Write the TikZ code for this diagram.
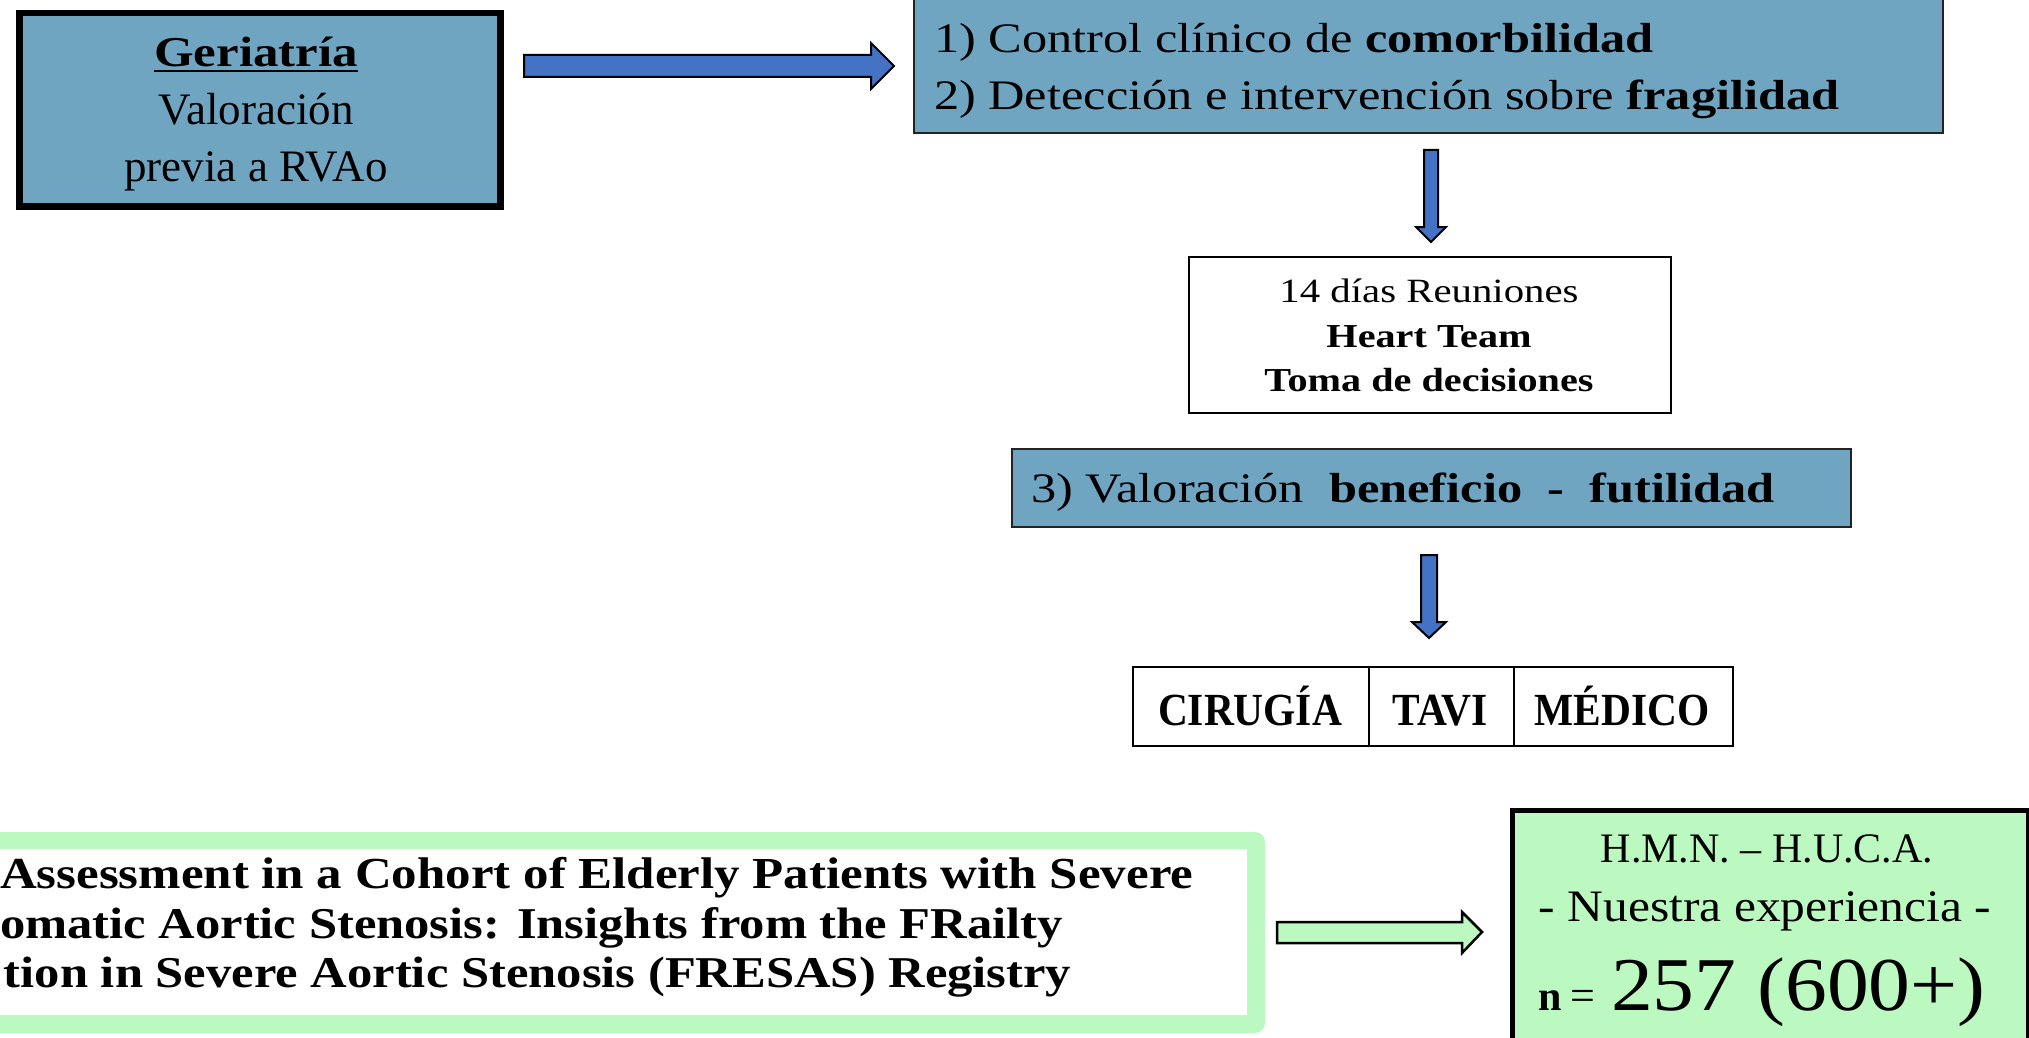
\documentclass[tikz,border=0pt]{standalone}
\usepackage{fontspec}
\setmainfont{Liberation Serif}
\newfontfamily\fWide[FakeStretch=1.2]{Liberation Serif}
\newfontfamily\fNar[FakeStretch=0.9]{Liberation Serif}
\newfontfamily\fPal[FakeStretch=1.15]{Liberation Serif}
\newfontfamily\fGrn[FakeStretch=1.1]{Liberation Serif}
\usetikzlibrary{calc}
\definecolor{boxblue}{RGB}{112,165,194}
\definecolor{arrblue}{RGB}{68,114,196}
\definecolor{lgreen}{RGB}{187,249,192}
\definecolor{edgegray}{RGB}{35,35,35}
\newcommand\fsz[1]{\fontsize{#1}{#1}\selectfont}
\begin{document}
\begin{tikzpicture}[x=1pt,y=-1pt,
  txt/.style={inner sep=0pt, outer sep=0pt, anchor=base},
  txtl/.style={inner sep=0pt, outer sep=0pt, anchor=base west},
  bluebox/.style={draw=edgegray, fill=boxblue, line width=2pt, inner sep=0pt, anchor=north west},
  whitebox/.style={draw=black, fill=white, line width=2pt, inner sep=0pt, anchor=north west},
  barrow/.style={fill=arrblue, draw=black, line width=2pt, line join=miter},
  garrow/.style={fill=lgreen, draw=black, line width=2.5pt, line join=miter}]
\useasboundingbox (0,0) rectangle (2029,1038);
\clip (0,0) rectangle (2029,1038);
\fill[white] (0,0) rectangle (2029,1038);

% Geriatria box
\node[bluebox, draw=black, line width=6.5pt, minimum width=481pt, minimum height=193pt] (ger) at (16,10) {};
\node[txt] (gerA) at (256,67) {\fWide\fsz{42.5}\bfseries Geriatría};
\draw[line width=2.5pt] ($(gerA.base west)+(0,4)$) -- ($(gerA.base east)+(0,4)$);
\node[txt] (gerB) at (256,125) {\fsz{45}Valoración};
\node[txt] (gerC) at (256,182) {\fsz{45}previa a RVAo};

% top box
\node[bluebox, minimum width=1029pt, minimum height=137pt] (top) at (913,-5) {};
\node[txtl] (topA) at (934,53) {\fWide\fsz{42}1) Control clínico de \textbf{comorbilidad}};
\node[txtl] (topB) at (934,110) {\fWide\fsz{42}2) Detección e intervención sobre \textbf{fragilidad}};

% arrow ger -> top
\draw[barrow] (524,55) -- (871,55) -- (871,43) -- (894,66) -- (871,89) -- (871,77) -- (524,77) -- cycle;

% arrow down 1
\draw[barrow] (1424,150) -- (1438,150) -- (1438,227) -- (1446,227) -- (1431,242) -- (1416,227) -- (1424,227) -- cycle;

% heart team box
\node[whitebox, minimum width=482pt, minimum height=156pt] (heart) at (1188,256) {};
\node[txt] (heartA) at (1429,302) {\fWide\fsz{34}14 días Reuniones};
\node[txt] (heartB) at (1429,347) {\fWide\fsz{33.5}\bfseries Heart Team};
\node[txt] (heartC) at (1429,391) {\fWide\fsz{33.5}\bfseries Toma de decisiones};

% valoracion 3 box
\node[bluebox, minimum width=839pt, minimum height=78pt] (val) at (1011,448) {};
\node[txtl] (valA) at (1031,502) {\fWide\fsz{42}3) Valoración\ \ \textbf{beneficio\ \ -\ \ futilidad}};

% arrow down 2
\draw[barrow] (1421,555) -- (1437,555) -- (1437,622) -- (1446,622) -- (1429,638) -- (1412,622) -- (1421,622) -- cycle;

% table
\node[whitebox, minimum width=236pt, minimum height=79pt] (cir) at (1132,666) {};
\node[whitebox, minimum width=145pt, minimum height=79pt] (tavi) at (1368,666) {};
\node[whitebox, minimum width=219pt, minimum height=79pt] (med) at (1513,666) {};
\node[txt] (cirT) at (1250,725) {\fNar\fsz{46}\bfseries CIRUGÍA};
\node[txt] (taviT) at (1440,725) {\fNar\fsz{46}\bfseries TAVI};
\node[txt] (medT) at (1622,725) {\fNar\fsz{46}\bfseries MÉDICO};

% literature box
\fill[lgreen, rounded corners=10pt] (-30,832) rectangle (1265,1033);
\node[fill=white, inner sep=0pt, anchor=north west, minimum width=1277pt, minimum height=166pt] (lit) at (-30,849) {};
\node[txtl] (litA) at (0,888) {\fPal\fsz{44.3}\bfseries Assessment in a Cohort of Elderly Patients with Severe};
\node[txtl] (litB) at (0,938) {\fPal\fsz{44}\bfseries omatic Aortic Stenosis: Insights from the FRailty};
\node[txtl] (litC) at (4,987) {\fPal\fsz{44}\bfseries tion in Severe Aortic Stenosis (FRESAS) Registry};

% green arrow
\draw[garrow] (1277,922) -- (1462,922) -- (1462,912) -- (1482,932) -- (1462,953) -- (1462,943) -- (1277,943) -- cycle;

% green result box
\node[draw=black, fill=lgreen, line width=5pt, inner sep=0pt, anchor=north west, minimum width=516pt, minimum height=240pt] (res) at (1509.5,807.5) {};
\node[txt] (resA) at (1767,862) {\fsz{42}H.M.N. – H.U.C.A.};
\node[txt] (resB) at (1765,921) {\fGrn\fsz{45}- Nuestra experiencia -};
\node[txtl] (resC) at (1538,1010) {{\fsz{42}\bfseries n}\hspace{9pt}{\fsz{44}=}\hspace{16pt}{\fGrn\fsz{76}257 (600+)}};
\end{tikzpicture}
\end{document}
